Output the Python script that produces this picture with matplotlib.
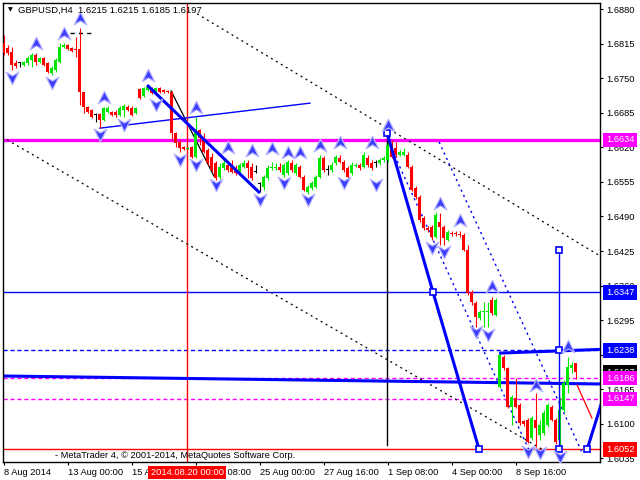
import numpy as np
import matplotlib
matplotlib.use("Agg")
import matplotlib.pyplot as plt
from matplotlib.path import Path
from matplotlib.transforms import blended_transform_factory

plt.rcParams['font.family'] = ['Liberation Sans', 'DejaVu Sans']

# GBPUSD H4 candles (bar index 0 = 8 Aug 2014 16:00)
opens = [
    1.6816, 1.6807, 1.6799, 1.6779, 1.6779, 1.6775, 1.6779, 1.6784, 1.6794, 1.6781,
    1.6788, 1.6779, 1.6760, 1.6765, 1.6781, 1.6809, 1.6812, 1.6807, 1.6805, 1.6805,
    1.6724, 1.6696, 1.6690, 1.6681, 1.6683, 1.6671, 1.6686, 1.6686, 1.6686, 1.6681,
    1.6690, 1.6696, 1.6694, 1.6684, 1.6730, 1.6717, 1.6728, 1.6731, 1.6724, 1.6731,
    1.6728, 1.6726, 1.6724, 1.6647, 1.6630, 1.6621, 1.6617, 1.6621, 1.6602, 1.6653,
    1.6638, 1.6615, 1.6602, 1.6591, 1.6564, 1.6581, 1.6587, 1.6587, 1.6581, 1.6572,
    1.6583, 1.6591, 1.6583, 1.6574, 1.6551, 1.6545, 1.6562, 1.6581, 1.6581, 1.6583,
    1.6568, 1.6572, 1.6591, 1.6572, 1.6583, 1.6564, 1.6536, 1.6544, 1.6545, 1.6564,
    1.6600, 1.6577, 1.6577, 1.6591, 1.6600, 1.6592, 1.6581, 1.6572, 1.6585, 1.6587,
    1.6583, 1.6600, 1.6591, 1.6591, 1.6591, 1.6596, 1.6596, 1.6624, 1.6619, 1.6606,
    1.6606, 1.6606, 1.6583, 1.6544, 1.6527, 1.6487, 1.6468, 1.6470, 1.6452, 1.6480,
    1.6470, 1.6446, 1.6459, 1.6459, 1.6457, 1.6455, 1.6427, 1.6348, 1.6327, 1.6299,
    1.6310, 1.6310, 1.6333, 1.6305, 1.6169, 1.6226, 1.6205, 1.6132, 1.6149, 1.6136,
    1.6106, 1.6107, 1.6073, 1.6107, 1.6079, 1.6083, 1.6098, 1.6132, 1.6107, 1.6070,
    1.6126, 1.6173, 1.6205, 1.6215]
highs = [
    1.6831, 1.6812, 1.6809, 1.6784, 1.6781, 1.6782, 1.6792, 1.6797, 1.6797, 1.6790,
    1.6790, 1.6781, 1.6773, 1.6788, 1.6816, 1.6816, 1.6814, 1.6809, 1.6827, 1.6844,
    1.6724, 1.6698, 1.6692, 1.6684, 1.6684, 1.6696, 1.6698, 1.6688, 1.6690, 1.6698,
    1.6702, 1.6700, 1.6698, 1.6696, 1.6731, 1.6733, 1.6735, 1.6733, 1.6733, 1.6733,
    1.6730, 1.6728, 1.6726, 1.6649, 1.6634, 1.6622, 1.6621, 1.6622, 1.6677, 1.6654,
    1.6647, 1.6619, 1.6609, 1.6594, 1.6591, 1.6600, 1.6591, 1.6596, 1.6587, 1.6591,
    1.6596, 1.6596, 1.6591, 1.6587, 1.6555, 1.6568, 1.6587, 1.6592, 1.6591, 1.6591,
    1.6591, 1.6596, 1.6596, 1.6591, 1.6587, 1.6568, 1.6549, 1.6557, 1.6568, 1.6606,
    1.6604, 1.6587, 1.6592, 1.6606, 1.6606, 1.6596, 1.6585, 1.6592, 1.6591, 1.6591,
    1.6611, 1.6606, 1.6596, 1.6596, 1.6600, 1.6604, 1.6647, 1.6634, 1.6630, 1.6615,
    1.6619, 1.6611, 1.6587, 1.6547, 1.6530, 1.6491, 1.6472, 1.6474, 1.6498, 1.6497,
    1.6474, 1.6465, 1.6463, 1.6463, 1.6463, 1.6459, 1.6437, 1.6352, 1.6331, 1.6314,
    1.6329, 1.6329, 1.6339, 1.6337, 1.6233, 1.6230, 1.6207, 1.6155, 1.6186, 1.6139,
    1.6107, 1.6111, 1.6115, 1.6158, 1.6107, 1.6126, 1.6139, 1.6136, 1.6111, 1.6151,
    1.6183, 1.6226, 1.6216, 1.6215]
lows = [
    1.6794, 1.6794, 1.6765, 1.6769, 1.6771, 1.6773, 1.6775, 1.6771, 1.6775, 1.6779,
    1.6773, 1.6760, 1.6756, 1.6762, 1.6779, 1.6807, 1.6803, 1.6799, 1.6790, 1.6700,
    1.6684, 1.6684, 1.6675, 1.6668, 1.6656, 1.6669, 1.6684, 1.6679, 1.6677, 1.6679,
    1.6677, 1.6688, 1.6679, 1.6683, 1.6711, 1.6715, 1.6726, 1.6720, 1.6722, 1.6722,
    1.6722, 1.6722, 1.6634, 1.6621, 1.6611, 1.6615, 1.6617, 1.6600, 1.6600, 1.6624,
    1.6609, 1.6587, 1.6574, 1.6559, 1.6560, 1.6577, 1.6574, 1.6572, 1.6568, 1.6568,
    1.6581, 1.6562, 1.6559, 1.6572, 1.6536, 1.6540, 1.6559, 1.6577, 1.6577, 1.6574,
    1.6564, 1.6568, 1.6574, 1.6568, 1.6562, 1.6538, 1.6532, 1.6540, 1.6544, 1.6562,
    1.6574, 1.6568, 1.6574, 1.6587, 1.6591, 1.6574, 1.6562, 1.6568, 1.6583, 1.6577,
    1.6581, 1.6583, 1.6577, 1.6583, 1.6587, 1.6592, 1.6592, 1.6600, 1.6602, 1.6604,
    1.6604, 1.6581, 1.6538, 1.6523, 1.6480, 1.6465, 1.6461, 1.6446, 1.6450, 1.6437,
    1.6437, 1.6444, 1.6453, 1.6453, 1.6452, 1.6425, 1.6343, 1.6324, 1.6282, 1.6296,
    1.6282, 1.6282, 1.6305, 1.6303, 1.6168, 1.6201, 1.6130, 1.6098, 1.6130, 1.6098,
    1.6096, 1.6064, 1.6070, 1.6057, 1.6070, 1.6079, 1.6094, 1.6106, 1.6062, 1.6051,
    1.6122, 1.6158, 1.6196, 1.6185]
closes = [
    1.6797, 1.6797, 1.6775, 1.6773, 1.6779, 1.6781, 1.6788, 1.6794, 1.6781, 1.6788,
    1.6775, 1.6762, 1.6769, 1.6784, 1.6809, 1.6812, 1.6805, 1.6801, 1.6803, 1.6724,
    1.6696, 1.6686, 1.6677, 1.6681, 1.6671, 1.6694, 1.6694, 1.6681, 1.6681, 1.6694,
    1.6698, 1.6690, 1.6681, 1.6694, 1.6713, 1.6731, 1.6733, 1.6722, 1.6731, 1.6724,
    1.6724, 1.6724, 1.6647, 1.6628, 1.6619, 1.6617, 1.6619, 1.6602, 1.6653, 1.6638,
    1.6611, 1.6591, 1.6577, 1.6562, 1.6583, 1.6591, 1.6577, 1.6574, 1.6572, 1.6587,
    1.6591, 1.6581, 1.6562, 1.6574, 1.6551, 1.6564, 1.6581, 1.6583, 1.6583, 1.6577,
    1.6587, 1.6592, 1.6577, 1.6587, 1.6564, 1.6540, 1.6545, 1.6553, 1.6564, 1.6600,
    1.6577, 1.6577, 1.6587, 1.6602, 1.6592, 1.6577, 1.6564, 1.6587, 1.6587, 1.6581,
    1.6606, 1.6587, 1.6581, 1.6591, 1.6596, 1.6600, 1.6624, 1.6602, 1.6606, 1.6611,
    1.6611, 1.6583, 1.6540, 1.6527, 1.6483, 1.6468, 1.6465, 1.6452, 1.6493, 1.6470,
    1.6450, 1.6461, 1.6457, 1.6457, 1.6455, 1.6427, 1.6346, 1.6329, 1.6301, 1.6310,
    1.6312, 1.6312, 1.6309, 1.6333, 1.6230, 1.6205, 1.6132, 1.6151, 1.6132, 1.6102,
    1.6100, 1.6066, 1.6111, 1.6092, 1.6098, 1.6121, 1.6136, 1.6107, 1.6066, 1.6126,
    1.6177, 1.6207, 1.6211, 1.6197]

# fractal arrows (bar, price)
up_bars = [8, 15, 19, 25, 36, 48, 56, 62, 67, 71, 74, 79, 84, 92, 96, 109, 114, 122, 133, 141]
up_prices = [1.6816, 1.6835, 1.6863, 1.6715, 1.6756, 1.6696, 1.6621, 1.6615, 1.6619, 1.6611,
             1.6611, 1.6624, 1.6630, 1.6630, 1.6662, 1.6515, 1.6483, 1.6359, 1.6173, 1.6246]
dn_bars = [2, 12, 24, 30, 38, 44, 48, 53, 64, 70, 76, 85, 93, 107, 110, 118, 121, 131, 134, 139]
dn_prices = [1.6750, 1.6741, 1.6643, 1.6662, 1.6700, 1.6596, 1.6587, 1.6549, 1.6521, 1.6553,
             1.6521, 1.6553, 1.6549, 1.6431, 1.6423, 1.6273, 1.6267, 1.6047, 1.6045, 1.6038]

# horizontal levels
level_magenta = 1.6634
level_blue = 1.6347
level_blue_dash = 1.6238
levels_magenta_dash = [1.6186, 1.6147]
level_red = 1.6052
bid = 1.6197

# trend objects as (bar, price) pairs
dotted_black = [[(48.4, 1.6871), (149.1, 1.6416)], [(0.9, 1.6634), (135.4, 1.6049)]]
black_line = [(41.9, 1.6726), (52.6, 1.6566)]
black_top = [(16.6, 1.6835), (22.1, 1.6835)]
blue_thin = [(24.1, 1.6656), (76.6, 1.6703)]
wave1 = [(35.9, 1.6737), (64.1, 1.6534)]
wave2 = [(95.9, 1.6647), (107.4, 1.6347), (118.9, 1.6052)]
wave3 = [(123.9, 1.6233), (149.1, 1.6240)]
wave4 = [(145.9, 1.6052), (151.0, 1.6175)]
blue_flat = [(-0.1, 1.6190), (149.1, 1.6175)]
dotted_blue = [[(96.6, 1.6624), (131.6, 1.6047)], [(108.9, 1.6630), (144.9, 1.6042)]]
target_bar, target_top = 138.9, 1.6427
red_forecast = [(143.4, 1.6173), (147.1, 1.6111)]
squares = [(95.9, 1.6647), (107.4, 1.6347), (118.9, 1.6052), (138.9, 1.6238),
           (138.9, 1.6427), (138.9, 1.6052), (145.9, 1.6052)]
cross_bar = 45.9
vline_bar = 95.9

tick_bars = [0, 16, 32, 48, 64, 80, 96, 112, 128]
tick_labels = ["8 Aug 2014", "13 Aug 00:00", "15 Aug 16:00", "20 Aug 08:00", "25 Aug 00:00",
               "27 Aug 16:00", "1 Sep 08:00", "4 Sep 00:00", "8 Sep 16:00"]
price_ticks = [1.6035, 1.6100, 1.6165, 1.6230, 1.6295, 1.6360, 1.6425, 1.6490,
               1.6555, 1.6620, 1.6685, 1.6750, 1.6815, 1.6880]

fig = plt.figure(figsize=(6.4, 4.8), dpi=100)
ax = fig.add_axes([3 / 640, 18 / 480, 597 / 640, 459 / 480])
ax.set_xlim(-0.125, 149.125)
ax.set_ylim(1.60283, 1.68913)

o = np.array(opens); h = np.array(highs); l = np.array(lows); c = np.array(closes)
x = np.arange(len(o))
col = np.where(c > o, '#00e800', np.where(c < o, '#ff0000', '#000000'))
ax.vlines(x, l, h, colors=col, linewidth=0.8, zorder=3)
body = np.maximum(np.abs(c - o), 0.00019)
ax.bar(x, body, bottom=np.minimum(o, c), width=0.72, color=col, linewidth=0, zorder=3)

# horizontal levels
ax.axhline(level_magenta, color='#ff00ff', lw=2.4, zorder=2)
ax.axhline(level_blue, color='#0000ff', lw=1, zorder=2)
ax.axhline(level_blue_dash, color='#0000ff', lw=1, ls=(0, (3, 2)), zorder=2)
for lv in levels_magenta_dash:
    ax.axhline(lv, color='#ff00ff', lw=1, ls=(0, (3, 2)), zorder=2)
ax.axhline(level_red, color='#ff0000', lw=1, zorder=2)

ax.axvline(cross_bar, color='#ff0000', lw=1, zorder=2)
ax.plot([vline_bar, vline_bar], [1.6647, 1.6060], color='black', lw=1, zorder=2)

def seg(pts, **kw):
    xs, ys = zip(*pts)
    ax.plot(xs, ys, **kw)

for d in dotted_black:
    seg(d, color='black', lw=0.9, ls=(0, (1.6, 3)), zorder=2)
seg(black_line, color='black', lw=0.9, zorder=2)
seg(black_top, color='black', lw=1, ls=(0, (3, 3)), zorder=2)
seg(blue_thin, color='#0000ff', lw=1, zorder=2)
for d in dotted_blue:
    seg(d, color='#0000ff', lw=1, ls=(0, (1.6, 2.6)), zorder=2)
seg(blue_flat, color='#0000ff', lw=2.2, zorder=2)
for w in (wave1, wave2, wave3, wave4):
    seg(w, color='#0000ff', lw=2.2, zorder=4, solid_capstyle='butt')
ax.plot([target_bar, target_bar], [target_top, level_red], color='#0000ff', lw=1, zorder=4)
seg(red_forecast, color='#ff0000', lw=0.9, zorder=4)
sx, sy = zip(*squares)
ax.plot(sx, sy, 's', ms=4.5, mfc='white', mec='#0000ff', mew=1.2, zorder=5)

# fractal arrow markers
up_arrow = Path([(0, 1), (1, -1), (0, -0.4), (-1, -1), (0, 1)],
                [Path.MOVETO, Path.LINETO, Path.LINETO, Path.LINETO, Path.CLOSEPOLY])
dn_arrow = Path([(0, -1), (1, 1), (0, 0.4), (-1, 1), (0, -1)],
                [Path.MOVETO, Path.LINETO, Path.LINETO, Path.LINETO, Path.CLOSEPOLY])
ax.plot(up_bars, up_prices, ls='none', marker=up_arrow, ms=9, mfc='#3c3cff',
        mec='#b4b4ff', mew=0.9, zorder=6)
ax.plot(dn_bars, dn_prices, ls='none', marker=dn_arrow, ms=9, mfc='#3c3cff',
        mec='#b4b4ff', mew=0.9, zorder=6)

# axes styling
for s in ax.spines.values():
    s.set_color('black')
    s.set_linewidth(1)
ax.yaxis.tick_right()
ax.set_yticks(price_ticks)
ax.set_yticklabels([f"{p:.4f}" for p in price_ticks])
ax.set_xticks(tick_bars)
ax.set_xticklabels(tick_labels)
for lbl in ax.get_xticklabels():
    lbl.set_horizontalalignment('left')
ax.tick_params(axis='x', direction='out', length=2.5, width=0.8, pad=2, labelsize=6.7)
ax.tick_params(axis='y', direction='out', length=2.5, width=0.8, pad=2, labelsize=6.7)

ytr = blended_transform_factory(ax.transAxes, ax.transData)
def price_box(val, face, z=7):
    ax.annotate(f"{val:.4f}", xy=(1, val), xycoords=ytr, xytext=(4.3, 0),
                textcoords='offset points', ha='left', va='center', fontsize=6.7,
                color='white', zorder=z, annotation_clip=False,
                bbox=dict(boxstyle='square,pad=0.3', fc=face, ec='none'))

price_box(level_magenta, '#ff00ff')
price_box(level_blue, '#0000ff')
price_box(level_blue_dash, '#0000ff')
price_box(bid, '#000000', z=7)
price_box(levels_magenta_dash[0], '#ff00ff', z=8)
price_box(levels_magenta_dash[1], '#ff00ff')
price_box(level_red, '#ff0000')

xtr = blended_transform_factory(ax.transData, ax.transAxes)
ax.annotate("2014.08.20 00:00", xy=(cross_bar, 0), xycoords=xtr, xytext=(0, -7.5),
            textcoords='offset points', ha='center', va='center', fontsize=6.7,
            color='white', zorder=8, annotation_clip=False,
            bbox=dict(boxstyle='square,pad=0.25', fc='#ff0000', ec='none'))

fig.text(10 / 640, 1 - 10 / 480, "\u25bc", fontsize=4.5, family='DejaVu Sans',
         ha='center', va='center')
fig.text(18 / 640, 1 - 10 / 480, "GBPUSD,H4  1.6215 1.6215 1.6185 1.6197",
         fontsize=6.8, va='center')
fig.text(55 / 640, 1 - 455 / 480,
         "- MetaTrader 4, \u00a9 2001-2014, MetaQuotes Software Corp.",
         fontsize=6.7, va='center')

fig.savefig("out.png", dpi=100)
